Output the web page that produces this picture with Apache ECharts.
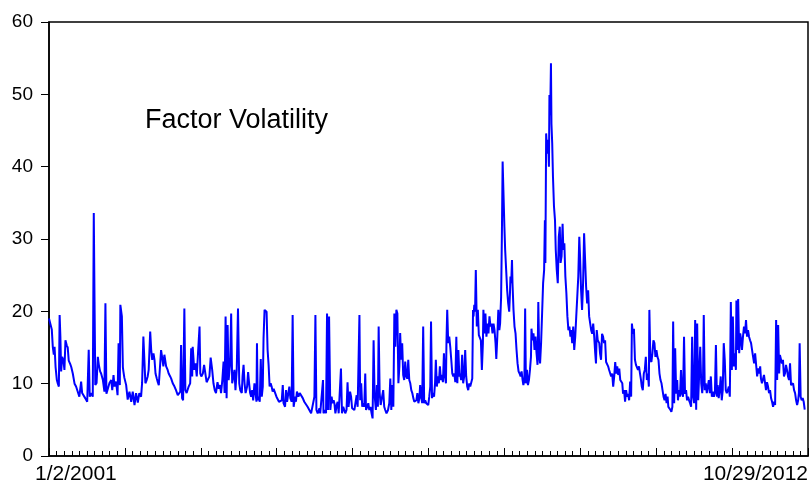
<!DOCTYPE html>
<html>
<head>
<meta charset="utf-8">
<script src="https://cdn.jsdelivr.net/npm/echarts@6/dist/echarts.min.js"></script>
<style>
  html, body { margin: 0; padding: 0; background: #ffffff; }
  #chart { width: 810px; height: 486px; }
</style>
</head>
<body>
<div id="chart"></div>
<script>
// Daily factor volatility, observation number (0 = 1/2/2001) and level.
const chartTitle = 'Factor Volatility';
const dateLabels = ['1/2/2001', '10/29/2012'];
const yRange = { min: 0, max: 60, step: 10 };
const obsRange = { min: 0, max: 3000, major: 300, minorPerMajor: 10 };

const vol2001 = [[0,19.0],[11,17.5],[15,15.1],[19,14.0],[22,15.1],[26,12.3],[31,10.5],[35,10.0],[39,9.6],[42,19.5],[45,16.5],[48,11.7],[52,13.7],[57,13.2],[61,11.9],[65,16.0],[70,15.3],[74,15.0],[78,13.2],[84,12.7],[88,12.3],[94,11.4],[101,10.0],[107,9.6],[114,9.8],[120,8.2],[127,10.3],[131,8.7],[137,8.9],[143,8.0],[151,7.5],[157,14.7],[161,8.2],[167,8.7],[173,8.2],[177,33.6],[180,21.3],[183,9.8],[188,10.1],[193,13.7],[197,12.6],[202,11.7],[206,11.4],[213,10.5],[219,8.9],[223,21.1],[227,8.6],[232,8.4],[239,10.1],[246,10.5],[250,9.1],[255,11.2],[259,9.6],[265,10.3],[271,8.4],[275,15.6],[280,9.8],[282,20.9],[288,19.3],[292,12.3],[294,11.7],[298,10.8],[305,9.8],[311,7.8],[318,8.9],[325,7.5],[331,8.9],[338,7.05],[344,8.7],[351,7.4],[357,8.7],[364,8.2],[368,10.1],[373,16.5]];

const vol2002 = [[381,10.05],[386,10.5],[390,11.0],[394,11.9],[400,17.2],[404,14.65],[408,13.3],[413,14.2],[417,13.3],[421,11.4],[426,10.7],[430,10.2],[434,9.8],[439,10.05],[443,14.65],[447,13.7],[452,12.4],[456,14.0],[460,14.2],[463,12.4],[469,11.9],[473,11.4],[479,11.0],[483,10.7],[489,10.05],[496,9.6],[502,9.1],[509,8.4],[515,8.2],[519,8.9],[522,15.35],[526,8.0],[530,7.7],[535,20.4],[539,9.1],[544,8.7],[552,9.6],[558,10.05],[562,14.9],[566,11.0],[568,15.1],[574,11.9],[579,12.8],[584,11.0],[589,14.2],[595,17.9],[598,11.4],[602,11.0],[608,11.4],[613,12.6],[618,12.4],[623,10.2],[629,10.2],[634,11.0],[639,13.6],[645,11.9],[650,10.05],[655,9.1],[660,8.7],[666,10.2],[671,9.3],[676,9.8],[680,8.7],[685,10.5],[690,13.05],[694,8.7],[698,19.3],[702,8.0],[706,18.1],[710,10.5],[716,12.8],[720,19.7],[724,10.05],[729,11.0],[733,11.9],[737,9.1],[742,11.9],[747,20.4]];

const vol2004 = [[752,10.05],[756,9.1],[762,8.7],[765,11.0],[769,12.6],[773,10.05],[777,8.7],[783,9.6],[787,11.6],[791,10.05],[795,8.7],[799,8.2],[803,9.1],[807,7.7],[812,10.05],[816,10.2],[820,7.5],[822,15.6],[825,7.7],[829,8.2],[833,7.5],[837,13.4],[841,8.2],[845,9.6],[848,16.3],[852,20.2],[856,20.4],[860,19.95],[864,14.65],[868,12.6],[872,9.6],[876,10.05],[880,9.6],[884,8.9],[888,9.3],[894,8.7],[899,8.2],[904,8.0],[909,7.5],[914,7.3],[920,7.7],[924,9.8],[927,7.3],[933,6.8],[937,9.1],[941,7.5],[946,7.7],[950,9.6],[954,8.0],[959,7.5],[963,19.5],[967,6.8],[973,8.2],[976,7.5],[980,8.9],[986,8.2],[991,8.7],[996,8.7],[1003,8.0],[1009,7.5],[1016,7.3],[1022,6.8],[1029,6.36],[1036,5.9],[1042,6.13],[1049,8.2],[1053,19.5],[1057,6.36],[1062,5.9],[1069,6.6],[1072,5.9],[1078,6.13],[1083,10.5],[1085,5.9],[1091,6.36],[1095,5.9],[1099,19.7],[1103,6.36],[1107,19.3],[1112,6.36],[1117,8.2],[1121,7.3],[1125,7.7]];

const vol2005 = [[1128,7.3],[1132,5.9],[1137,7.05],[1141,7.5],[1145,5.9],[1150,5.67],[1154,12.1],[1158,5.9],[1163,6.8],[1167,6.36],[1171,5.9],[1176,6.36],[1180,10.2],[1184,6.8],[1190,8.9],[1194,8.2],[1198,6.6],[1203,6.8],[1207,6.36],[1211,6.6],[1216,8.4],[1220,6.8],[1224,7.05],[1227,19.5],[1230,7.7],[1234,10.05],[1238,6.8],[1242,7.3],[1246,6.8],[1250,11.4],[1253,6.36],[1258,6.8],[1262,7.3],[1266,6.36],[1271,6.8],[1275,5.9],[1279,5.2],[1283,16.0],[1287,8.4],[1292,6.36],[1296,9.8],[1300,6.8],[1303,17.9],[1307,8.7],[1311,7.05],[1316,7.3],[1321,9.1],[1325,6.8],[1329,6.36],[1334,5.9],[1340,6.36],[1345,7.3],[1349,10.7],[1353,6.36],[1356,9.8],[1361,6.8],[1365,19.7],[1369,15.1],[1373,20.2],[1377,19.7],[1381,10.05],[1385,12.4],[1388,17.0],[1392,13.3],[1396,15.6],[1400,11.2],[1404,10.5],[1408,13.05],[1412,11.0],[1416,10.7],[1420,13.3],[1424,10.5],[1428,10.05],[1432,9.1],[1436,8.7],[1440,8.0],[1444,7.5],[1448,7.3],[1452,7.7],[1456,8.7],[1460,7.3],[1464,8.0],[1467,9.8],[1471,8.2],[1475,7.3],[1479,17.9],[1483,7.3],[1487,7.7],[1491,7.3],[1495,7.5],[1499,7.05],[1503,8.2]];

const vol2007 = [[1507,9.6],[1510,18.6],[1514,8.0],[1518,8.7],[1522,8.2],[1526,10.2],[1529,13.3],[1533,9.6],[1537,11.0],[1541,10.05],[1545,12.4],[1549,10.5],[1553,11.2],[1557,10.2],[1561,14.2],[1565,11.0],[1569,10.05],[1571,15.8],[1574,20.2],[1578,15.6],[1582,16.5],[1586,15.1],[1590,13.3],[1594,11.4],[1598,11.0],[1602,11.4],[1606,10.2],[1610,16.5],[1614,10.05],[1618,14.65],[1622,11.0],[1625,11.4],[1629,10.5],[1633,14.0],[1637,10.05],[1641,11.0],[1645,14.65],[1649,11.0],[1653,9.6],[1657,9.1],[1661,10.05],[1665,9.6],[1669,9.8],[1673,10.7],[1676,20.2],[1678,19.3],[1681,20.9],[1684,19.95],[1687,25.7],[1691,17.9],[1695,20.2],[1699,16.7]];

const vol2008 = [[1707,16.0],[1711,11.9],[1715,15.6],[1717,20.2],[1721,16.95],[1725,19.7],[1729,16.5],[1733,18.3],[1737,16.95],[1741,19.3],[1745,17.9],[1749,18.3],[1753,16.95],[1757,18.3],[1761,17.4],[1765,15.6],[1768,13.4],[1772,16.5],[1776,20.2],[1780,17.4],[1783,18.3],[1787,22.0],[1790,30.3],[1793,40.7],[1796,36.8],[1800,31.7],[1803,28.5],[1807,25.7],[1811,22.9],[1815,21.1],[1819,19.95],[1822,22.5],[1824,24.8],[1827,23.9],[1830,27.1],[1832,23.9],[1836,20.2],[1840,17.9],[1844,16.95],[1848,14.65],[1852,12.8],[1856,11.7],[1860,11.4],[1864,11.0],[1868,11.7],[1872,10.5],[1875,9.8],[1879,10.5],[1882,20.4],[1885,10.05],[1889,11.9],[1893,9.8],[1897,10.5],[1901,11.9],[1905,13.7],[1907,17.6],[1911,16.0],[1915,16.95],[1919,14.65],[1923,16.5],[1927,14.2],[1931,12.6],[1934,21.3],[1938,13.7],[1941,12.8],[1945,15.6],[1949,19.7],[1953,23.9],[1957,25.7],[1960,32.6],[1962,26.7],[1965,44.6],[1969,41.8],[1973,43.7],[1976,40.0],[1978,49.9],[1981,47.1],[1984,54.3],[1986,45.9],[1989,43.2],[1992,38.6],[1996,34.5],[2000,32.6],[2003,28.5],[2007,25.7],[2011,23.9],[2015,30.3],[2019,31.7],[2022,26.7],[2026,27.6],[2030,32.1],[2033,28.5],[2037,29.4],[2041,24.8],[2045,22.5],[2049,19.3],[2053,17.4],[2057,17.9],[2061,16.5],[2064,17.4],[2068,15.6],[2072,17.9],[2076,14.65],[2080,16.5],[2084,19.3],[2088,22.0],[2092,24.8],[2096,30.3],[2099,27.6],[2103,23.0],[2107,20.2],[2111,23.9],[2115,30.8],[2119,27.1],[2123,23.4],[2127,21.1],[2131,22.9],[2135,19.3]];

const vol2010 = [[2139,19.3],[2143,17.4],[2147,16.9],[2151,18.3],[2155,16.5],[2159,14.2],[2162,12.8],[2165,17.4],[2169,16.0],[2175,15.6],[2178,14.2],[2182,13.3],[2186,16.9],[2190,16.5],[2194,15.6],[2198,16.0],[2202,13.0],[2206,12.8],[2210,12.4],[2214,11.9],[2218,11.7],[2222,11.0],[2226,11.4],[2230,9.6],[2234,11.0],[2238,13.0],[2242,11.4],[2246,12.4],[2250,11.2],[2254,12.1],[2258,10.5],[2262,10.5],[2266,10.05],[2269,8.6],[2273,9.1],[2277,7.5],[2281,9.1],[2285,8.2],[2289,8.6],[2293,7.7],[2297,10.3],[2301,8.2],[2304,18.3],[2308,16.9],[2312,17.6],[2316,13.3],[2320,12.6],[2324,12.8],[2328,11.9],[2332,12.4],[2336,11.4],[2340,10.5],[2343,9.6],[2347,9.1],[2351,11.4],[2355,11.9],[2359,13.7],[2363,10.5],[2367,11.4],[2371,9.6],[2373,20.2],[2377,13.3],[2381,13.0],[2385,14.2],[2389,16.0],[2393,15.6],[2397,13.7],[2401,14.65],[2405,13.7],[2409,13.3],[2413,11.4],[2417,10.5],[2421,10.05],[2425,9.1],[2429,8.2],[2433,7.7],[2437,8.6],[2441,7.3],[2445,8.2],[2448,6.8],[2452,6.6],[2456,6.4],[2460,6.1],[2464,6.8],[2467,18.6],[2471,7.3],[2475,14.9],[2479,8.6],[2483,10.5],[2486,7.7],[2490,9.1],[2494,8.2],[2498,11.9],[2502,8.6],[2506,8.2],[2510,16.5],[2514,8.6],[2518,9.1],[2522,7.7],[2526,8.2],[2530,7.7],[2534,7.3],[2538,6.8],[2542,16.5],[2546,8.2],[2550,7.3],[2554,18.8],[2558,6.4],[2562,18.3],[2566,7.7]];

const vol2011 = [[2570,7.5],[2574,15.1],[2578,10.05],[2582,8.7],[2585,10.5],[2588,19.5],[2592,9.1],[2596,10.05],[2600,8.7],[2604,9.6],[2608,10.5],[2612,8.7],[2616,11.0],[2620,8.2],[2624,8.9],[2628,8.2],[2632,8.7],[2636,15.35],[2640,8.2],[2643,9.8],[2647,8.0],[2651,9.1],[2655,11.0],[2659,7.7],[2663,9.1],[2667,15.6],[2671,13.3],[2675,9.1],[2679,8.7],[2683,9.1],[2687,9.6],[2691,8.2],[2695,21.3],[2699,11.9],[2703,19.3],[2707,12.4],[2711,14.2],[2715,11.9],[2717,21.5],[2721,14.65],[2724,21.7],[2728,14.2],[2732,16.95],[2736,16.0],[2739,14.65],[2743,16.5],[2747,17.9],[2751,16.95],[2755,18.8],[2759,16.5],[2763,17.4],[2767,16.5],[2771,16.0],[2775,15.6],[2779,14.65],[2783,13.7],[2787,12.8],[2791,14.2],[2795,12.6],[2799,11.0],[2803,12.1],[2807,11.4],[2811,12.4],[2814,10.7],[2818,10.05],[2822,9.8],[2826,11.2],[2830,11.0],[2834,9.1],[2838,10.2],[2842,9.6],[2846,8.7],[2850,9.1],[2854,8.0],[2858,7.5],[2862,6.8],[2866,7.5],[2870,7.05],[2874,18.8],[2878,10.5],[2882,18.1],[2886,11.4],[2889,13.97],[2893,13.7],[2897,12.8],[2901,13.3],[2905,11.0],[2909,11.4],[2913,12.6],[2917,11.9],[2921,11.0],[2925,10.5],[2929,12.8],[2933,9.8],[2937,9.6],[2941,10.05],[2945,9.1],[2949,8.7],[2953,7.7],[2957,7.05],[2961,7.7],[2964,8.7],[2967,15.6],[2971,8.2],[2975,7.7],[2979,8.0],[2983,7.5],[2987,6.4]];

const volatility = [].concat(vol2001, vol2002, vol2004, vol2005, vol2007, vol2008, vol2010, vol2011);

const FONT = '"Liberation Sans", Arial, Helvetica, sans-serif';
const chart = echarts.init(document.getElementById('chart'), null, { renderer: 'canvas' });

chart.setOption({
  animation: false,
  backgroundColor: '#ffffff',
  grid: {
    left: 49, top: 22, right: 2, bottom: 30,
    show: true, borderColor: '#000000', borderWidth: 1.5, backgroundColor: 'transparent'
  },
  xAxis: {
    type: 'value',
    min: obsRange.min, max: obsRange.max, interval: obsRange.major,
    axisLine: { show: true, onZero: false, lineStyle: { color: '#000000', width: 1.5 } },
    axisTick: { show: true, inside: true, length: 8, lineStyle: { color: '#000000', width: 1 } },
    minorTick: { show: true, splitNumber: obsRange.minorPerMajor, length: 5, lineStyle: { color: '#000000', width: 1 } },
    axisLabel: { show: false },
    splitLine: { show: false }
  },
  yAxis: {
    type: 'value',
    min: yRange.min, max: yRange.max, interval: yRange.step,
    axisLine: { show: true, lineStyle: { color: '#000000', width: 1.5 } },
    axisTick: { show: true, inside: false, length: 8, lineStyle: { color: '#000000', width: 1 } },
    axisLabel: { show: true, margin: 16, color: '#000000', fontSize: 19, fontFamily: FONT },
    splitLine: { show: false }
  },
  graphic: [
    { type: 'text', left: 145, top: 107, style: { text: chartTitle, fill: '#000000', font: '27px ' + FONT } },
    { type: 'text', left: 35, top: 464, style: { text: dateLabels[0], fill: '#000000', font: '21px ' + FONT } },
    { type: 'text', right: 2, top: 464, style: { text: dateLabels[1], fill: '#000000', font: '21px ' + FONT } }
  ],
  series: [{
    type: 'line',
    data: volatility,
    showSymbol: false,
    symbol: 'none',
    lineStyle: { color: '#0000FF', width: 2 },
    z: 1
  }]
});
</script>
</body>
</html>
